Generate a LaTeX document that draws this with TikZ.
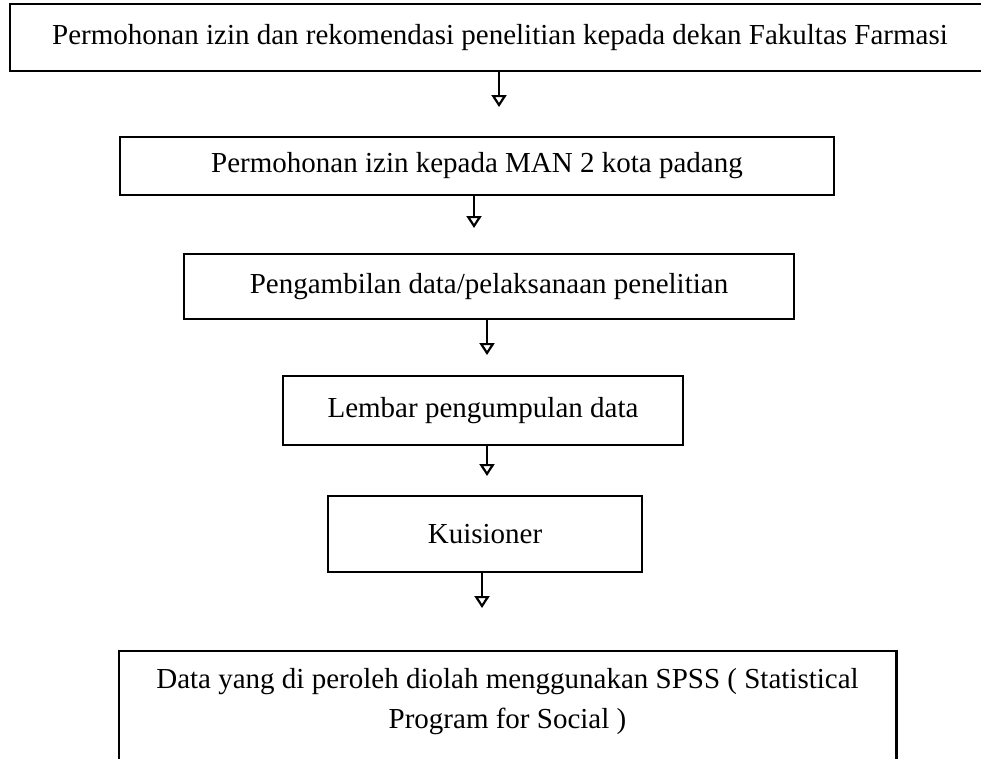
\documentclass[tikz,border=0pt]{standalone}
\usepackage{fontspec}
\setmainfont{Liberation Serif}
\usetikzlibrary{arrows.meta}
\tikzset{
  flowbox/.style={draw=black, line width=2.6pt, fill=white, inner sep=0pt, font=\fontsize{29}{40}\selectfont},
  flowarrow/.style={line width=2.8pt, -{Triangle[open, width=15pt, length=12pt, line width=2.2pt]}},
  plaintext/.style={inner sep=0pt, align=center, font=\fontsize{29}{40}\selectfont}
}
\begin{document}
\begin{tikzpicture}[x=1pt, y=-1pt]
\useasboundingbox (0,0) rectangle (981,758);
\fill[white] (0,0) rectangle (981,758);

\node[flowbox, minimum width=980pt, minimum height=67pt] (b1) at (500,37.5)
  {Permohonan izin dan rekomendasi penelitian kepada dekan Fakultas Farmasi};
\node[flowbox, minimum width=714pt, minimum height=58pt] (b2) at (477,166)
  {Permohonan izin kepada MAN 2 kota padang};
\node[flowbox, minimum width=610pt, minimum height=65pt] (b3) at (489,286.5)
  {Pengambilan data/pelaksanaan penelitian};
\node[flowbox, minimum width=400pt, minimum height=69pt] (b4) at (483,410.5)
  {Lembar pengumpulan data};
\node[flowbox, minimum width=314pt, minimum height=76pt] (b5) at (485,534)
  {Kuisioner};

\node[minimum width=777pt, minimum height=130pt, inner sep=0pt, anchor=north] (b6) at (507.5,651) {};
\draw[line width=2.6pt] (b6.south west) -- (b6.north west) -- (b6.north east) -- (b6.south east);
\node[plaintext] (t6) at (507.5,702)
  {Data yang di peroleh diolah menggunakan SPSS ( Statistical\\Program for Social )};

\coordinate (e1) at (499,107);
\coordinate (e2) at (474,228);
\coordinate (e3) at (487,355);
\coordinate (e4) at (487,476);
\coordinate (e5) at (482,608);

\draw[flowarrow] (e1 |- b1.south) -- (e1);
\draw[flowarrow] (e2 |- b2.south) -- (e2);
\draw[flowarrow] (e3 |- b3.south) -- (e3);
\draw[flowarrow] (e4 |- b4.south) -- (e4);
\draw[flowarrow] (e5 |- b5.south) -- (e5);
\end{tikzpicture}
\end{document}
